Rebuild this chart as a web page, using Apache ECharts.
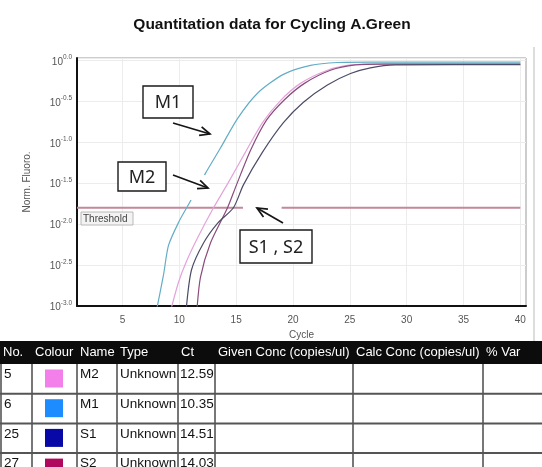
<!DOCTYPE html>
<html><head><meta charset="utf-8">
<script src="https://cdn.jsdelivr.net/npm/echarts@6/dist/echarts.min.js"></script>
<style>html,body{margin:0;padding:0;background:#fff}#c{width:542px;height:467px}</style>
</head><body><div id="c"></div>
<script>
// ---- data ----
const chartTitle = 'Quantitation data for Cycling A.Green';
const xAxisName = 'Cycle';
const yAxisName = 'Norm. Fluoro.';
const xTicks = [5, 10, 15, 20, 25, 30, 35, 40];
const yTicks = [-3, -2.5, -2, -1.5, -1, -0.5, 0]; // log10 exponents
// [cycle, log10(norm. fluorescence)]
const curveM1 = [[8.0,-3.05],[8.61,-2.62],[9.05,-2.26],[9.93,-1.98],[10.81,-1.76],[12.30,-1.38],[13.62,-1.07],[15.12,-0.71],[16.88,-0.40],[19.16,-0.17],[21.54,-0.06],[23.91,-0.025],[26.8,-0.02],[40,-0.02]];
const curveM2 = [[9.25,-3.05],[9.93,-2.71],[10.55,-2.48],[11.60,-2.17],[13.01,-1.80],[14.32,-1.49],[15.82,-1.12],[17.32,-0.76],[18.90,-0.49],[20.66,-0.28],[23.03,-0.12],[25.06,-0.055],[27.7,-0.04],[40,-0.04]];
const curveS2 = [[11.55,-3.05],[11.86,-2.65],[12.74,-2.23],[14.24,-1.80],[15.03,-1.52],[16.26,-1.10],[17.67,-0.73],[19.25,-0.48],[21.01,-0.28],[23.30,-0.12],[25.49,-0.055],[28.1,-0.045],[40,-0.045]];
const curveS1 = [[10.6,-3.05],[11.07,-2.56],[12.13,-2.23],[13.36,-1.99],[14.76,-1.80],[15.64,-1.52],[17.32,-1.12],[19.16,-0.76],[20.92,-0.51],[23.03,-0.30],[25.06,-0.16],[26.81,-0.09],[29.0,-0.055],[40,-0.05]];
const thresholdValue = -1.8;
const thresholdSpans = [[1, 15.6], [19.0, 40]];
const thresholdLabel = 'Threshold';
const annotationTexts = ['M1', 'M2', 'S1 , S2'];
const tableHeaders = ['No.', 'Colour', 'Name', 'Type', 'Ct', 'Given Conc (copies/ul)', 'Calc Conc (copies/ul)', '% Var'];
const tableNo = ['5', '6', '25', '27'];
const tableNames = ['M2', 'M1', 'S1', 'S2'];
const tableTypes = ['Unknown', 'Unknown', 'Unknown', 'Unknown'];
const tableCt = ['12.59', '10.35', '14.51', '14.03'];

// ---- styles / layout ----
const lineColors = {M1: '#63adc6', M2: '#e4a2da', S2: '#8a4c7c', S1: '#4c4c68'};
const swatchColors = ['#f27fea', '#1c8cff', '#0808a6', '#b0085c'];
const colX = [1, 32, 77, 117, 178, 215, 353, 483, 542];
const headerTop = 341, headerBottom = 364, rowH = 29.7;
const FONT = 'Liberation Sans, Arial, sans-serif';

const chart = echarts.init(document.getElementById('c'), null, {renderer: 'canvas'});

function arrow(x1, y1, x2, y2) {
  const a = Math.atan2(y2 - y1, x2 - x1), L = 11, w = 0.42;
  return [
    {type: 'line', z: 100, shape: {x1, y1, x2, y2}, style: {stroke: '#151515', lineWidth: 1.7}},
    {type: 'polyline', z: 100, shape: {points: [[x2 - L * Math.cos(a - w), y2 - L * Math.sin(a - w)], [x2, y2], [x2 - L * Math.cos(a + w), y2 - L * Math.sin(a + w)]]},
      style: {stroke: '#151515', lineWidth: 1.7, fill: null}}
  ];
}
function txt(text, x, y, size, color, weight, align, family) {
  return {type: 'text', z: 101, style: {text, x, y, fontSize: size, fontWeight: weight || 'normal',
    fontFamily: family || FONT, fill: color,
    align: align || 'left', verticalAlign: 'middle', textAlign: align || 'left', textVerticalAlign: 'middle'}};
}
function box(x, y, w, h, label) {
  return [
    {type: 'rect', z: 99, shape: {x, y, width: w, height: h}, style: {fill: '#fff', stroke: '#1a1a1a', lineWidth: 1.4}},
    txt(label, x + w / 2, y + h / 2 + 1, 18, '#222', 'normal', 'center', 'Noto Sans, sans-serif')
  ];
}

const graphics = [];
// outer panel frame line
graphics.push({type: 'line', shape: {x1: 534, y1: 47, x2: 534, y2: 341}, style: {stroke: '#bbb', lineWidth: 1}});
// threshold label
graphics.push({type: 'rect', z: 98, shape: {x: 81, y: 212, width: 52, height: 13}, style: {fill: '#f3f3f3', stroke: '#b8b8b8', lineWidth: 1}});
graphics.push(txt(thresholdLabel, 83, 219, 10, '#444'));
// white background of the pasted M2 arrow
graphics.push({type: 'rect', z: 97, shape: {x: 186, y: 175, width: 23, height: 25}, style: {fill: '#fff'}});
// annotations
graphics.push(...box(143, 86, 50, 32, annotationTexts[0]));
graphics.push(...arrow(173, 123, 210, 134));
graphics.push(...box(118, 162, 48, 29, annotationTexts[1]));
graphics.push(...arrow(173, 175, 208, 188));
graphics.push(...box(240, 230, 72, 33, annotationTexts[2]));
graphics.push(...arrow(283, 223, 257, 208));

// table
graphics.push({type: 'rect', shape: {x: 0, y: headerTop, width: 542, height: headerBottom - headerTop}, style: {fill: '#0c0c0c'}});
tableHeaders.forEach((h, i) => graphics.push(txt(h, colX[i] + (i === 0 ? 2 : 3), (headerTop + headerBottom) / 2, 13, '#fff')));
const nRows = tableNo.length;
for (let r = 0; r < nRows; r++) {
  const top = headerBottom + r * rowH, cy = top + 10.5;
  graphics.push(txt(tableNo[r], colX[0] + 3, cy, 13.5, '#111'));
  graphics.push({type: 'rect', shape: {x: 45, y: top + 5.5, width: 18, height: 18}, style: {fill: swatchColors[r]}});
  graphics.push(txt(tableNames[r], colX[2] + 3, cy, 13.5, '#111'));
  graphics.push(txt(tableTypes[r], colX[3] + 3, cy, 13.5, '#111'));
  graphics.push(txt(tableCt[r], colX[4] + 2, cy, 13.5, '#111'));
  graphics.push({type: 'line', shape: {x1: 0, y1: top + rowH, x2: 542, y2: top + rowH}, style: {stroke: '#555', lineWidth: 2}});
}
colX.slice(0, 8).forEach(x => graphics.push({type: 'line', shape: {x1: x, y1: headerBottom, x2: x, y2: 467}, style: {stroke: '#555', lineWidth: 1.6}}));

function thresholdData() {
  const d = [];
  thresholdSpans.forEach((s, i) => {
    if (i > 0) d.push(['-', '-']);
    d.push([s[0], thresholdValue], [s[1], thresholdValue]);
  });
  return d;
}

const mkSeries = (name, data) => ({
  name, type: 'line', data, symbol: 'none', smooth: 0.25, clip: true,
  lineStyle: {color: lineColors[name], width: 1.2}, z: 3
});

chart.setOption({
  animation: false,
  backgroundColor: '#fff',
  title: {text: chartTitle, left: 267, top: 12, textAlign: 'center',
    textStyle: {fontSize: 15.5, fontWeight: 'bold', color: '#111', fontFamily: FONT}},
  grid: {left: 77, right: 16, top: 58, bottom: 161, show: true, borderColor: '#9a9a9a', borderWidth: 1, backgroundColor: '#fff'},
  xAxis: {
    type: 'value', min: 1, max: 40.5,
    name: xAxisName, nameLocation: 'middle', nameGap: 22,
    nameTextStyle: {fontSize: 10, color: '#555', fontFamily: FONT},
    axisLine: {show: true, onZero: false, lineStyle: {color: '#111', width: 2}},
    axisTick: {show: false, customValues: xTicks},
    axisLabel: {customValues: xTicks, fontSize: 10, color: '#555', margin: 9, fontFamily: FONT},
    splitLine: {show: true, lineStyle: {color: '#ececec', width: 1}}
  },
  yAxis: {
    type: 'value', min: yTicks[0], max: 0.03, interval: 0.5,
    name: yAxisName, nameLocation: 'middle', nameGap: 45,
    nameTextStyle: {fontSize: 10, color: '#555', fontFamily: FONT},
    axisLine: {show: true, onZero: false, lineStyle: {color: '#111', width: 2}},
    axisTick: {show: false},
    axisLabel: {
      showMaxLabel: false, margin: 5,
      formatter: v => '{b|10}{s|' + v.toFixed(1) + '}',
      rich: {
        b: {fontSize: 10, color: '#555', fontFamily: FONT, lineHeight: 13, verticalAlign: 'bottom'},
        s: {fontSize: 6.5, color: '#555', fontFamily: FONT, lineHeight: 13, verticalAlign: 'top', padding: [0, 0, 6, 0]}
      }
    },
    splitLine: {show: true, lineStyle: {color: '#ececec', width: 1}}
  },
  series: [
    {name: 'Threshold', type: 'line', data: thresholdData(), symbol: 'none', connectNulls: false,
      lineStyle: {color: '#c4889a', width: 2}, z: 2},
    mkSeries('M1', curveM1),
    mkSeries('M2', curveM2),
    mkSeries('S2', curveS2),
    mkSeries('S1', curveS1)
  ],
  graphic: graphics
});
</script></body></html>
